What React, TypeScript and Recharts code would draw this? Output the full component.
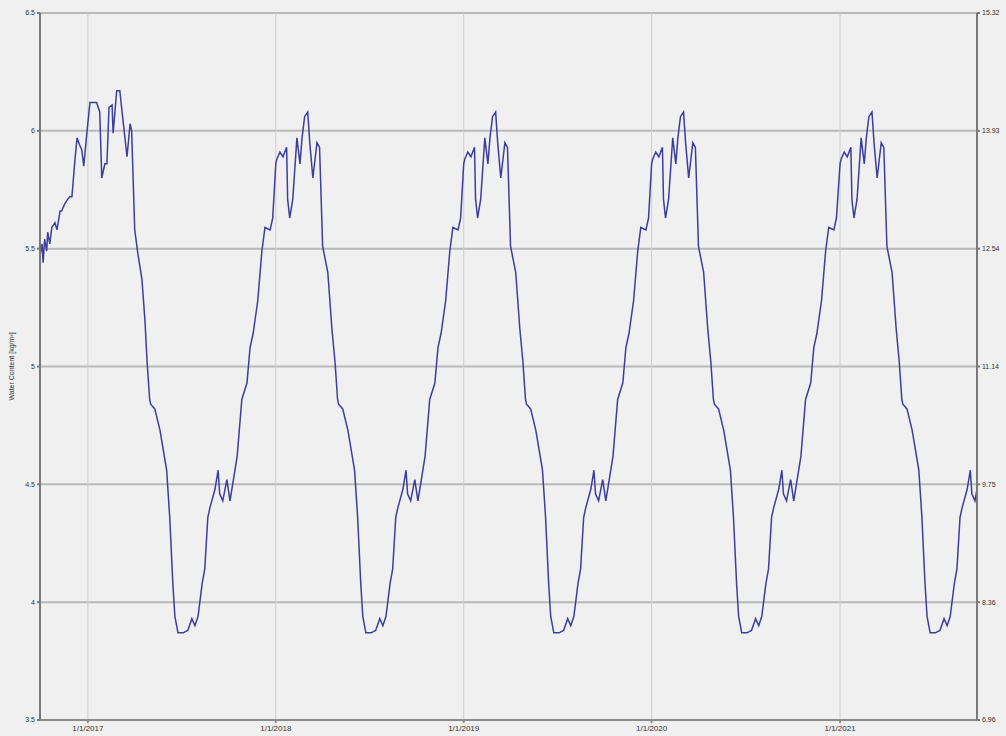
import {
  LineChart,
  Line,
  XAxis,
  YAxis,
  CartesianGrid,
} from 'recharts'

// days counted from Jan 1 of the given year, values in kg/m³
const days2016 = [-93, -89, -87, -84, -80, -78, -74, -70, -64, -60, -54, -51, -45, -39, -35, -31, -25, -21, -16, -12, -8, -2]
const values2016 = [5.47, 5.52, 5.44, 5.54, 5.49, 5.57, 5.52, 5.59, 5.61, 5.58, 5.66, 5.66, 5.69, 5.71, 5.72, 5.72, 5.88, 5.97, 5.94, 5.92, 5.85, 5.99]

const days2017 = [4, 10, 17, 23, 27, 33, 37, 41, 47, 49, 56, 62, 68, 76, 82, 85, 91, 97, 105, 111,
  115, 120, 122, 130, 140, 153, 159, 165, 169, 175, 185, 194, 202, 208, 214, 222, 227, 233, 237,
  247, 253, 256, 262, 270, 276, 282, 290, 299, 309, 315, 321, 330, 338, 344, 354, 359]
const values2017 = [6.12, 6.12, 6.12, 6.08, 5.80, 5.86, 5.86, 6.10, 6.11, 5.99, 6.17, 6.17, 6.05, 5.89, 6.03, 6.00, 5.58, 5.48, 5.37, 5.19,
  5.02, 4.86, 4.84, 4.82, 4.73, 4.56, 4.36, 4.08, 3.94, 3.87, 3.87, 3.88, 3.93, 3.90, 3.94, 4.08, 4.14, 4.36, 4.40,
  4.48, 4.56, 4.46, 4.43, 4.52, 4.43, 4.51, 4.62, 4.86, 4.93, 5.08, 5.14, 5.28, 5.49, 5.59, 5.58, 5.63]

const cycleDays = [0, 2, 8, 14, 21, 23, 27, 33, 41, 47, 51, 56, 62, 66, 72, 80, 85, 91, 101, 109, 115, 120, 122,
  130, 140, 153, 159, 165, 169, 175, 185, 194, 202, 208, 214, 222, 227, 233, 237, 247, 253, 256, 262,
  270, 276, 282, 290, 299, 309, 315, 321, 330, 338, 344, 354, 359]
const values2018 = [5.86, 5.88, 5.91, 5.89, 5.93, 5.71, 5.63, 5.71, 5.97, 5.86, 5.97, 6.06, 6.08, 5.95, 5.80, 5.95, 5.93, 5.51, 5.40, 5.16, 5.02, 4.86, 4.84,
  4.82, 4.73, 4.56, 4.36, 4.08, 3.94, 3.87, 3.87, 3.88, 3.93, 3.90, 3.94, 4.08, 4.14, 4.36, 4.40, 4.48, 4.56, 4.46, 4.43,
  4.52, 4.43, 4.51, 4.62, 4.86, 4.93, 5.08, 5.14, 5.28, 5.49, 5.59, 5.58, 5.63]
const values2019 = [5.86, 5.88, 5.91, 5.89, 5.93, 5.71, 5.63, 5.71, 5.97, 5.86, 5.97, 6.06, 6.08, 5.95, 5.80, 5.95, 5.93, 5.51, 5.40, 5.16, 5.02, 4.86, 4.84,
  4.82, 4.73, 4.56, 4.36, 4.08, 3.94, 3.87, 3.87, 3.88, 3.93, 3.90, 3.94, 4.08, 4.14, 4.36, 4.40, 4.48, 4.56, 4.46, 4.43,
  4.52, 4.43, 4.51, 4.62, 4.86, 4.93, 5.08, 5.14, 5.28, 5.49, 5.59, 5.58, 5.63]
const values2020 = [5.86, 5.88, 5.91, 5.89, 5.93, 5.71, 5.63, 5.71, 5.97, 5.86, 5.97, 6.06, 6.08, 5.95, 5.80, 5.95, 5.93, 5.51, 5.40, 5.16, 5.02, 4.86, 4.84,
  4.82, 4.73, 4.56, 4.36, 4.08, 3.94, 3.87, 3.87, 3.88, 3.93, 3.90, 3.94, 4.08, 4.14, 4.36, 4.40, 4.48, 4.56, 4.46, 4.43,
  4.52, 4.43, 4.51, 4.62, 4.86, 4.93, 5.08, 5.14, 5.28, 5.49, 5.59, 5.58, 5.63]
const days2021 = [0, 2, 8, 14, 21, 23, 27, 33, 41, 47, 51, 56, 62, 66, 72, 80, 85, 91, 101, 109, 115, 120, 122,
  130, 140, 153, 159, 165, 169, 175, 185, 194, 202, 208, 214, 222, 227, 233, 237, 247, 253, 256, 262, 266]
const values2021 = [5.86, 5.88, 5.91, 5.89, 5.93, 5.71, 5.63, 5.71, 5.97, 5.86, 5.97, 6.06, 6.08, 5.95, 5.80, 5.95, 5.93, 5.51, 5.40, 5.16, 5.02, 4.86, 4.84,
  4.82, 4.73, 4.56, 4.36, 4.08, 3.94, 3.87, 3.87, 3.88, 3.93, 3.90, 3.94, 4.08, 4.14, 4.36, 4.40, 4.48, 4.56, 4.46, 4.43, 4.48]

const yTicks = [3.5, 4, 4.5, 5, 5.5, 6, 6.5]
const rightTickLabels = ['6.96', '8.36', '9.75', '11.14', '12.54', '13.93', '15.32']
const tickYears = [2017, 2018, 2019, 2020, 2021]

const DAY = 86400000
const series: [number, number[], number[]][] = [
  [2017, days2016, values2016],
  [2017, days2017, values2017],
  [2018, cycleDays, values2018],
  [2019, cycleDays, values2019],
  [2020, cycleDays, values2020],
  [2021, days2021, values2021],
]
const data = series.flatMap(([year, ds, vs]) =>
  ds.map((d, i) => ({ t: Date.UTC(year, 0, 1) + d * DAY, v: vs[i] }))
)
const xTicks = tickYears.map(y => Date.UTC(y, 0, 1))
const xDomain = [Date.UTC(2016, 8, 30), Date.UTC(2021, 8, 24)]

const tickStyle = { fontSize: 7, fill: '#333', fontFamily: 'Liberation Sans, Arial, sans-serif' }

export default function App() {
  return (
    <div style={{ width: 1006, height: 736, background: '#f0f0f0' }}>
      <style>{'body{margin:0}'}</style>
      <LineChart width={1006} height={736} data={data} margin={{ top: 13, right: 0, left: 0, bottom: 0 }}>
        <CartesianGrid vertical={false} stroke="#b9b9b9" strokeWidth={2} yAxisId="left" />
        <CartesianGrid horizontal={false} stroke="#cfcfcf" strokeWidth={1} yAxisId="left" />
        <XAxis
          dataKey="t"
          type="number"
          domain={xDomain}
          ticks={xTicks}
          allowDataOverflow
          tickFormatter={(v: number) => `1/1/${new Date(v).getUTCFullYear()}`}
          tick={{ ...tickStyle, fontSize: 8 }}
          stroke="#8a8a8a"
          strokeWidth={2}
          tickSize={3}
          height={16}
        />
        <YAxis
          yAxisId="left"
          domain={[3.5, 6.5]}
          ticks={yTicks}
          allowDataOverflow
          tick={tickStyle}
          stroke="#7a7a7a"
          strokeWidth={2}
          tickSize={3}
          width={40}
          label={{ value: 'Water Content [kg/m³]', angle: -90, position: 'insideLeft', offset: 12, style: { ...tickStyle, textAnchor: 'middle' } }}
        />
        <YAxis
          yAxisId="right"
          orientation="right"
          domain={[3.5, 6.5]}
          ticks={yTicks}
          allowDataOverflow
          tickFormatter={(_v: number, i: number) => rightTickLabels[i]}
          tick={tickStyle}
          stroke="#7a7a7a"
          strokeWidth={2}
          tickSize={3}
          width={29}
        />
        <Line
          yAxisId="left"
          type="linear"
          dataKey="v"
          stroke="#3d3d9e"
          strokeWidth={1.5}
          dot={false}
          isAnimationActive={false}
        />
      </LineChart>
    </div>
  )
}
